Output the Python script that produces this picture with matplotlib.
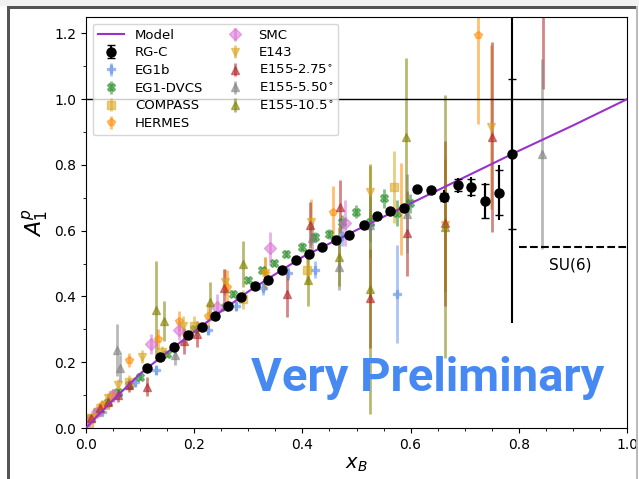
import matplotlib
matplotlib.use('Agg')
import matplotlib.pyplot as plt
from matplotlib.patches import Rectangle
from matplotlib.ticker import MultipleLocator

# model curve
model_x = [0, 0.02, 0.05, 0.1, 0.15, 0.2, 0.25, 0.3, 0.35, 0.4, 0.5, 0.6, 0.7, 0.8, 0.9, 1.0]
model_y = [0, 0.035, 0.085, 0.165, 0.23, 0.293, 0.355, 0.415, 0.468, 0.52, 0.602, 0.683, 0.763, 0.843, 0.92, 1.0]

# RG-C
rgc_x = [0.112, 0.137, 0.163, 0.189, 0.214, 0.238, 0.263, 0.286, 0.312, 0.337, 0.362, 0.388, 0.412, 0.437,
         0.462, 0.487, 0.513, 0.537, 0.562, 0.588, 0.612, 0.638, 0.662, 0.688, 0.712, 0.737, 0.763, 0.787]
rgc_y = [0.184, 0.215, 0.245, 0.283, 0.308, 0.340, 0.372, 0.397, 0.432, 0.450, 0.482, 0.511, 0.528, 0.551,
         0.573, 0.587, 0.617, 0.644, 0.660, 0.670, 0.727, 0.723, 0.703, 0.738, 0.733, 0.691, 0.716, 0.833]
rgc_stat = [0.004]*20 + [0.006, 0.008, 0.012, 0.018, 0.025, 0.052, 0.068, 0.228]
rgc_tot = [0.006]*20 + [0.01, 0.012, 0.02, 0.022, 0.03, 0.055, 0.083, 0.514]

# world data
eg1b_x = [0.03, 0.06, 0.09, 0.129, 0.225, 0.277, 0.327, 0.374, 0.423, 0.474, 0.525, 0.574]
eg1b_y = [0.05, 0.10, 0.14, 0.176, 0.298, 0.372, 0.425, 0.470, 0.482, 0.583, 0.617, 0.407]
eg1b_e = [0.01, 0.01, 0.015, 0.015, 0.015, 0.015, 0.02, 0.02, 0.025, 0.03, 0.05, 0.15]

dvcs_x = [0.02, 0.04, 0.06, 0.08, 0.10, 0.150, 0.200, 0.257, 0.272, 0.300, 0.325, 0.347, 0.37,
          0.399, 0.423, 0.450, 0.474, 0.499, 0.525, 0.550, 0.574, 0.599]
dvcs_y = [0.05, 0.08, 0.11, 0.13, 0.156, 0.225, 0.301, 0.369, 0.409, 0.450, 0.480, 0.502, 0.53,
          0.551, 0.580, 0.590, 0.627, 0.658, 0.627, 0.698, 0.654, 0.683]
dvcs_e = [0.01]*13 + [0.015, 0.015, 0.015, 0.02, 0.02, 0.025, 0.03, 0.04, 0.03]

compass_x = [0.005, 0.01, 0.02, 0.035, 0.05, 0.08, 0.14, 0.2, 0.291, 0.408, 0.569]
compass_y = [0.015, 0.03, 0.05, 0.07, 0.10, 0.14, 0.23, 0.31, 0.391, 0.482, 0.732]
compass_e = [0.01, 0.01, 0.01, 0.012, 0.015, 0.02, 0.02, 0.03, 0.03, 0.04, 0.11]

hermes_x = [0.01, 0.03, 0.05, 0.08, 0.134, 0.171, 0.226, 0.26, 0.33, 0.457, 0.583, 0.725]
hermes_y = [0.03, 0.07, 0.10, 0.207, 0.27, 0.325, 0.34, 0.43, 0.47, 0.657, 0.665, 1.195]
hermes_e = [0.01, 0.015, 0.02, 0.02, 0.03, 0.03, 0.04, 0.05, 0.05, 0.08, 0.14, 0.27]

smc_x = [0.005, 0.02, 0.05, 0.121, 0.171, 0.242, 0.34, 0.479]
smc_y = [0.025, 0.05, 0.1, 0.255, 0.298, 0.369, 0.547, 0.624]
smc_e = [0.01, 0.015, 0.02, 0.03, 0.03, 0.04, 0.05, 0.07]

e143_x = [0.01, 0.025, 0.04, 0.06, 0.103, 0.18, 0.257, 0.33, 0.415, 0.525, 0.664, 0.749]
e143_y = [0.03, 0.06, 0.09, 0.13, 0.217, 0.31, 0.445, 0.47, 0.627, 0.718, 0.617, 0.916]
e143_e = [0.01, 0.01, 0.015, 0.02, 0.02, 0.03, 0.04, 0.05, 0.07, 0.08, 0.2, 0.25]

e155a_x = [0.01, 0.025, 0.04, 0.06, 0.08, 0.112, 0.181, 0.205, 0.255, 0.371, 0.414, 0.470, 0.525,
           0.593, 0.664, 0.750, 0.845]
e155a_y = [0.03, 0.06, 0.08, 0.1, 0.13, 0.126, 0.264, 0.286, 0.425, 0.409, 0.617, 0.673, 0.394,
           0.592, 0.622, 0.885, 1.5]
e155a_e = [0.01, 0.015, 0.02, 0.02, 0.02, 0.03, 0.04, 0.04, 0.06, 0.07, 0.07, 0.08, 0.15,
           0.13, 0.25, 0.29, 0.47]

e155b_x = [0.057, 0.062, 0.165, 0.417, 0.468, 0.525, 0.593, 0.842]
e155b_y = [0.237, 0.181, 0.222, 0.577, 0.49, 0.617, 0.652, 0.833]
e155b_e = [0.08, 0.04, 0.03, 0.05, 0.07, 0.1, 0.12, 0.29]

e155c_x = [0.129, 0.144, 0.229, 0.290, 0.411, 0.467, 0.525, 0.591, 0.664]
e155c_y = [0.359, 0.325, 0.384, 0.50, 0.45, 0.521, 0.423, 0.885, 0.612]
e155c_e = [0.15, 0.06, 0.06, 0.07, 0.08, 0.09, 0.38, 0.24, 0.4]

su6 = 0.55

fig = plt.figure(figsize=(6.39, 4.79), dpi=100)
fig.patch.set_facecolor('white')
ax = fig.add_axes([86/639, 51/479, 541/639, 411/479])

ax.plot(model_x, model_y, color='darkorchid', lw=1.5, label='Model', zorder=5)

style = dict(ls='none', alpha=0.55, elinewidth=2, ms=6)
ax.errorbar(rgc_x, rgc_y, yerr=rgc_tot, fmt='none', ecolor='k', elinewidth=1.5, zorder=9)
ax.errorbar(rgc_x, rgc_y, yerr=rgc_stat, fmt='o', color='k', ms=6.5, capsize=3, elinewidth=1.5,
            label='RG-C', zorder=10)
ax.errorbar(eg1b_x, eg1b_y, yerr=eg1b_e, fmt='P', color='cornflowerblue', label='EG1b', **style)
ax.errorbar(dvcs_x, dvcs_y, yerr=dvcs_e, fmt='X', color='forestgreen', label='EG1-DVCS', **style)
ax.errorbar(compass_x, compass_y, yerr=compass_e, fmt='s', color='goldenrod', label='COMPASS', **style)
ax.errorbar(hermes_x, hermes_y, yerr=hermes_e, fmt='p', color='darkorange', label='HERMES', **style)
ax.errorbar(smc_x, smc_y, yerr=smc_e, fmt='D', color='orchid', label='SMC', **style)
ax.errorbar(e143_x, e143_y, yerr=e143_e, fmt='v', color='goldenrod', label='E143', **style)
ax.errorbar(e155a_x, e155a_y, yerr=e155a_e, fmt='^', color='firebrick', label=r'E155-2.75$^{\circ}$', **style)
ax.errorbar(e155b_x, e155b_y, yerr=e155b_e, fmt='^', color='gray', label=r'E155-5.50$^{\circ}$', **style)
ax.errorbar(e155c_x, e155c_y, yerr=e155c_e, fmt='^', color='olive', label=r'E155-10.5$^{\circ}$', **style)

ax.axhline(1.0, color='k', lw=1)
ax.plot([0.8, 1.0], [su6, su6], 'k--', lw=1.5)
ax.text(0.895, 0.495, 'SU(6)', fontsize=11, ha='center', va='center')
ax.text(0.632, 0.152, 'Very Preliminary', fontsize=34, family='Roboto', weight='bold',
        color='#4689f3', ha='center', va='center', zorder=20)

ax.set_xlim(0, 1.0)
ax.set_ylim(0, 1.25)
ax.xaxis.set_major_locator(MultipleLocator(0.2))
ax.xaxis.set_minor_locator(MultipleLocator(0.05))
ax.yaxis.set_major_locator(MultipleLocator(0.2))
ax.yaxis.set_minor_locator(MultipleLocator(0.1))
ax.tick_params(labelsize=10)
ax.set_xlabel('$x_B$', fontsize=14, labelpad=2)
ax.set_ylabel('$A_1^p$', fontsize=16, labelpad=2)
ax.legend(loc='upper left', ncol=2, fontsize=9.5, framealpha=0.8, columnspacing=1.4,
          labelspacing=0.35)

# window frame
fig.add_artist(Rectangle((0, 1 - 6/479), 1, 6/479, transform=fig.transFigure, color='#f2f2f2', lw=0))
fig.add_artist(Rectangle((7/639, 1 - 9/479), 630/639, 3/479, transform=fig.transFigure, color='#555555', lw=0))
fig.add_artist(Rectangle((7/639, 0), 3/639, 1 - 6/479, transform=fig.transFigure, color='#555555', lw=0))
fig.add_artist(Rectangle((636/639, 0), 1.5/639, 1 - 6/479, transform=fig.transFigure, color='#bbbbbb', lw=0))

fig.savefig('out.png', dpi=100)
